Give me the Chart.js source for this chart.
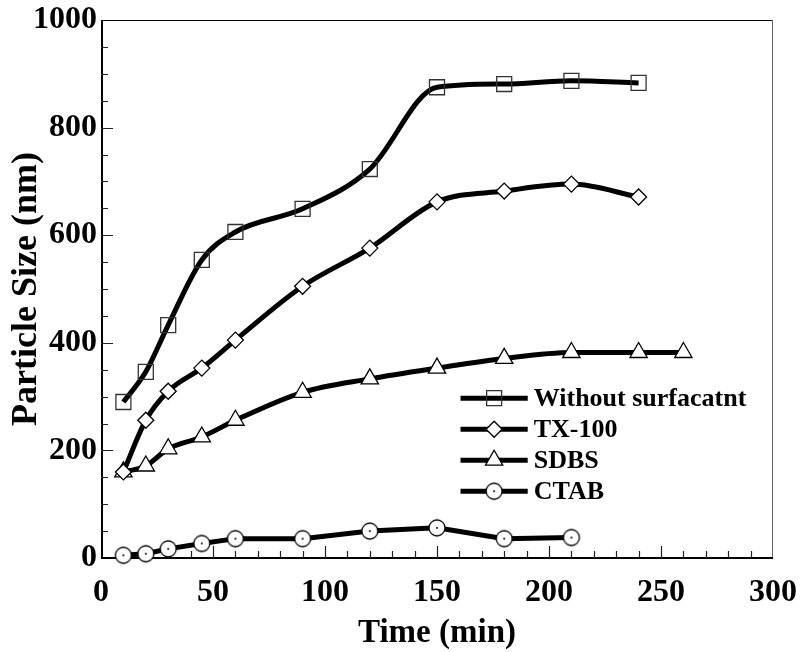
<!DOCTYPE html>
<html lang="en">
<head>
    <meta charset="UTF-8">
    <title>Particle Size vs Time</title>
    <script src="https://cdn.jsdelivr.net/npm/chart.js"></script>
    <style>
        html, body { margin: 0; padding: 0; background: #fff; }
        #wrap { width: 801px; height: 652px; }
    </style>
</head>
<body>
    <div id="wrap"><canvas id="chart" width="801" height="652"></canvas></div>

    <script>
        // data
        const timeMain = [10, 20, 30, 45, 60, 90, 120, 150, 180, 210, 240];
        const timeSdbs = [10, 20, 30, 45, 60, 90, 120, 150, 180, 210, 240, 260];
        const timeCtab = [10, 20, 30, 45, 60, 90, 120, 150, 180, 210];

        const noSurfactant = [290, 346, 433, 554, 606, 649, 723, 875, 881, 887, 883];
        const tx100 = [160, 256, 310, 353, 405, 505, 576, 662, 682, 695, 671];
        const sdbs = [160, 171, 203, 225, 256, 308, 333, 353, 371, 382, 382, 382];
        const ctab = [5, 8, 17, 27, 36, 36, 50, 56, 36, 38];

        const seriesNames = ['Without surfacatnt', 'TX-100', 'SDBS', 'CTAB'];
        const yTicks = [0, 200, 400, 600, 800, 1000];
        const xTicks = [0, 50, 100, 150, 200, 250, 300];

        const FONT = "'Liberation Serif', 'Times New Roman', serif";

        function toPoints(xs, ys) {
            return xs.map((x, i) => ({ x: x, y: ys[i] }));
        }

        // circle with a dot in the middle
        function dotCircle(r) {
            const c = document.createElement('canvas');
            const s = Math.ceil(r * 2 + 4);
            c.width = s;
            c.height = s;
            const g = c.getContext('2d');
            g.beginPath();
            g.arc(s / 2, s / 2, r, 0, Math.PI * 2);
            g.fillStyle = '#fff';
            g.fill();
            g.lineWidth = 1.3;
            g.strokeStyle = '#000';
            g.stroke();
            g.beginPath();
            g.arc(s / 2, s / 2, 1, 0, Math.PI * 2);
            g.fillStyle = '#000';
            g.fill();
            return c;
        }
        const circleImg = dotCircle(8);

        const markers = [
            { pointStyle: 'rect', radius: 10.6, bg: 'rgba(0,0,0,0)', border: '#333' },
            { pointStyle: 'rectRot', radius: 8, bg: '#fff', border: '#000' },
            { pointStyle: 'triangle', radius: 10, bg: '#fff', border: '#000' },
            { pointStyle: circleImg, radius: 8, bg: '#fff', border: '#000' }
        ];

        const seriesData = [
            toPoints(timeMain, noSurfactant),
            toPoints(timeMain, tx100),
            toPoints(timeSdbs, sdbs),
            toPoints(timeCtab, ctab)
        ];
        const interp = ['monotone', 'monotone', 'monotone', 'default'];
        const tensions = [0.4, 0.4, 0.4, 0];

        const datasets = seriesData.map((d, i) => ({
            label: seriesNames[i],
            data: d,
            borderColor: '#000',
            borderWidth: 5,
            cubicInterpolationMode: interp[i],
            tension: tensions[i],
            pointStyle: markers[i].pointStyle,
            pointRadius: markers[i].radius,
            pointBackgroundColor: markers[i].bg,
            pointBorderColor: markers[i].border,
            pointBorderWidth: 1.3,
            clip: false
        }));

        // box + inward ticks
        const framePlugin = {
            id: 'frame',
            beforeDatasetsDraw(chart) {
                const { ctx, chartArea: a, scales } = chart;
                ctx.save();
                ctx.strokeStyle = '#000';
                ctx.lineWidth = 1;
                ctx.beginPath();
                ctx.moveTo(a.left, a.top + 0.5);
                ctx.lineTo(a.right, a.top + 0.5);
                ctx.stroke();
                ctx.strokeStyle = '#666';
                ctx.beginPath();
                ctx.moveTo(a.right - 0.5, a.top);
                ctx.lineTo(a.right - 0.5, a.bottom);
                ctx.stroke();
                ctx.strokeStyle = '#000';
                ctx.lineWidth = 2;
                ctx.beginPath();
                ctx.moveTo(a.left + 1, a.top);
                ctx.lineTo(a.left + 1, a.bottom);
                ctx.lineTo(a.right, a.bottom);
                ctx.stroke();

                ctx.lineWidth = 1.2;
                ctx.strokeStyle = '#222';
                ctx.beginPath();
                for (let v = 50; v < 1000; v += 50) {
                    const y = Math.round(scales.y.getPixelForValue(v)) + 0.5;
                    const len = v % 200 === 0 ? 12 : 7;
                    ctx.moveTo(a.left, y);
                    ctx.lineTo(a.left + len, y);
                }
                for (let v = 10; v < 300; v += 10) {
                    const x = Math.round(scales.x.getPixelForValue(v)) + 0.5;
                    const len = v % 50 === 0 ? 12 : 7;
                    ctx.moveTo(x, a.bottom);
                    ctx.lineTo(x, a.bottom - len);
                }
                ctx.stroke();
                ctx.restore();
            }
        };

        // legend inside the plot: line with marker, then label
        const legendPlugin = {
            id: 'innerLegend',
            afterDatasetsDraw(chart) {
                const { ctx, chartArea: a } = chart;
                const w = a.right - a.left;
                const h = a.bottom - a.top;
                const x0 = a.left + w * 0.535;
                const x1 = a.left + w * 0.635;
                const tx = x1 + 6;
                const y0 = a.top + h * 0.703;
                const dy = 31;
                ctx.save();
                chart.data.datasets.forEach((ds, i) => {
                    const y = y0 + i * dy;
                    ctx.strokeStyle = '#000';
                    ctx.lineWidth = 5;
                    ctx.beginPath();
                    ctx.moveTo(x0, y);
                    ctx.lineTo(x1, y);
                    ctx.stroke();
                    ctx.fillStyle = ds.pointBackgroundColor;
                    ctx.strokeStyle = ds.pointBorderColor;
                    ctx.lineWidth = ds.pointBorderWidth;
                    Chart.helpers.drawPoint(ctx, {
                        pointStyle: ds.pointStyle,
                        radius: ds.pointRadius,
                        rotation: 0,
                        borderWidth: ds.pointBorderWidth
                    }, (x0 + x1) / 2, y);
                    ctx.fillStyle = '#000';
                    ctx.font = 'bold 26px ' + FONT;
                    ctx.textBaseline = 'middle';
                    ctx.textAlign = 'left';
                    ctx.fillText(ds.label, tx, y + 1);
                });
                ctx.restore();
            }
        };

        const ctx = document.getElementById('chart').getContext('2d');
        const chart = new Chart(ctx, {
            type: 'line',
            data: { datasets: datasets },
            plugins: [framePlugin, legendPlugin],
            options: {
                responsive: false,
                animation: false,
                layout: { padding: { top: 20, right: 28, bottom: 0, left: 0 } },
                plugins: {
                    legend: { display: false },
                    tooltip: { enabled: false }
                },
                scales: {
                    x: {
                        type: 'linear',
                        min: 0,
                        max: 300,
                        afterBuildTicks: (scale) => { scale.ticks = xTicks.map(v => ({ value: v })); },
                        afterFit: (scale) => {
                            scale.height = 94;
                            scale.paddingLeft = 0;
                            scale.paddingRight = 0;
                        },
                        grid: { display: false, drawTicks: false },
                        border: { display: false },
                        ticks: {
                            padding: 16,
                            color: '#000',
                            callback: (v) => String(v),
                            font: { family: FONT, size: 32, weight: 'bold' }
                        },
                        title: {
                            display: true,
                            text: 'Time (min)',
                            color: '#000',
                            padding: 0,
                            font: { family: FONT, size: 33, weight: 'bold', lineHeight: 1.1 }
                        }
                    },
                    y: {
                        type: 'linear',
                        min: 0,
                        max: 1000,
                        afterBuildTicks: (scale) => { scale.ticks = yTicks.map(v => ({ value: v })); },
                        afterFit: (scale) => {
                            scale.width = 101;
                            scale.paddingTop = 0;
                            scale.paddingBottom = 0;
                        },
                        grid: { display: false, drawTicks: false },
                        border: { display: false },
                        ticks: {
                            padding: 4,
                            color: '#000',
                            callback: (v) => String(v),
                            font: { family: FONT, size: 32, weight: 'bold' }
                        },
                        title: {
                            display: true,
                            text: 'Particle Size (nm)',
                            color: '#000',
                            padding: { top: 7, bottom: 0 },
                            font: { family: FONT, size: 36, weight: 'bold', lineHeight: 1.1 }
                        }
                    }
                }
            }
        });
    </script>
</body>
</html>
